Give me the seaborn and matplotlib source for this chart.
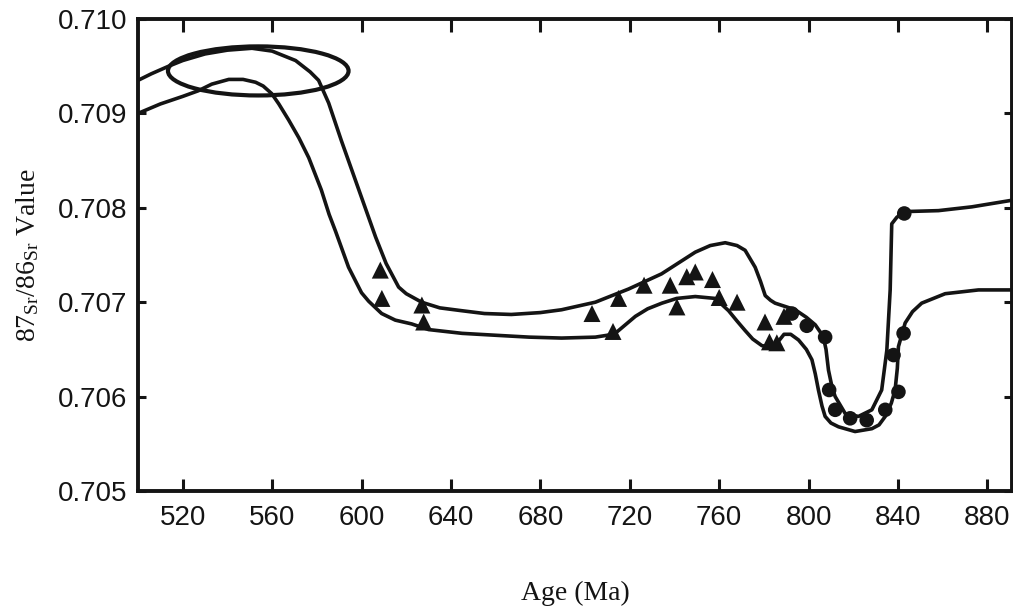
import matplotlib
matplotlib.use("Agg")
import matplotlib.pyplot as plt
from matplotlib.patches import Ellipse
import seaborn as sns

# ---------------- data ----------------
upper_age = [500, 506, 513.7, 520, 530, 540, 551, 560, 570.5, 577, 580.8, 585.3, 591, 600,
             606.3, 611, 616.6, 620, 626.9, 635, 644.8, 655, 667, 680, 689.5, 704.6, 719.5,
             734.2, 749.3, 756, 762.7, 768, 771.6, 776.1, 778.5, 780.6, 783, 785, 794, 799,
             803, 806.5, 807.8, 808.9, 810.5, 811.9, 816.4, 822.3, 828.3, 832.7, 835, 836.5,
             837.2, 839.5, 843.2, 858.1, 873, 891]
upper_sr = [0.70935, 0.70942, 0.70950, 0.70956, 0.70963, 0.70967, 0.70969, 0.70966, 0.70956,
            0.70944, 0.70935, 0.70911, 0.70871, 0.70811, 0.70769, 0.70741, 0.70716, 0.70709,
            0.70700, 0.70694, 0.70691, 0.70688, 0.70687, 0.70689, 0.70692, 0.70700, 0.70714,
            0.70730, 0.70753, 0.70760, 0.70763, 0.70760, 0.70755, 0.70737, 0.70722, 0.70707,
            0.70702, 0.70699, 0.70692, 0.70684, 0.70676, 0.70664, 0.70650, 0.70628, 0.70610,
            0.70600, 0.70582, 0.70579, 0.70586, 0.70607, 0.70649, 0.70713, 0.70783, 0.70790,
            0.70796, 0.70797, 0.70801, 0.70808]

lower_age = [500, 510, 520, 527, 533, 540.6, 547, 552.6, 556, 559.8, 563, 567.4, 572, 576.4,
             582, 585.5, 588.4, 594.2, 600, 603.2, 609, 615.1, 622.4, 630, 645, 659.8, 675,
             689.5, 704.6, 710, 713.5, 718, 722.5, 728, 734.4, 741, 749.3, 758.2, 761, 764.2,
             768, 771.6, 775, 779.1, 784, 787, 789, 792, 795.5, 799, 801.5, 803, 804.4, 806,
             807.4, 810, 813.4, 820.8, 828.3, 831.5, 834.3, 837, 838.7, 839.7, 840.2, 843.2,
             846.5, 850.6, 861.1, 876, 891]
lower_sr = [0.70900, 0.70910, 0.70918, 0.70924, 0.70931, 0.70936, 0.70936, 0.70933, 0.70929,
            0.70921, 0.70910, 0.70893, 0.70874, 0.70853, 0.70819, 0.70793, 0.70775, 0.70737,
            0.70710, 0.70701, 0.70688, 0.70681, 0.70677, 0.70671, 0.70667, 0.70665, 0.70663,
            0.70662, 0.70663, 0.70665, 0.70667, 0.70676, 0.70685, 0.70693, 0.70699, 0.70704,
            0.70706, 0.70704, 0.70698, 0.70691, 0.70680, 0.70670, 0.70661, 0.70654, 0.70652,
            0.70660, 0.70666, 0.70666, 0.70660, 0.70650, 0.70639, 0.70624, 0.70607, 0.70590,
            0.70579, 0.70572, 0.70568, 0.70563, 0.70566, 0.70570, 0.70579, 0.70593, 0.70607,
            0.70630, 0.70653, 0.70678, 0.70690, 0.70699, 0.70709, 0.70713, 0.70713]

triangle_age = [608.4, 609.1, 627.0, 627.8, 703.1, 715.0, 712.5, 726.4, 738.1, 741.1, 745.5,
                749.3, 757.0, 760.0, 768.0, 780.5, 782.5, 785.8, 789.0]
triangle_sr = [0.70734, 0.70704, 0.70697, 0.70679, 0.70688, 0.70704, 0.70669, 0.70718, 0.70718,
               0.70695, 0.70727, 0.70732, 0.70724, 0.70705, 0.70700, 0.70679, 0.70658, 0.70657,
               0.70685]

circle_age = [792.5, 799.2, 807.4, 809.2, 811.9, 818.6, 826.0, 834.3, 840.2, 838.0, 842.5, 842.8]
circle_sr = [0.70688, 0.70675, 0.70663, 0.70607, 0.70586, 0.70577, 0.70575, 0.70586, 0.70605,
             0.70644, 0.70667, 0.70794]

ellipse_center = (553.8, 0.70945)
ellipse_width_ma = 80.8
ellipse_height_sr = 0.00052

x_ticks = [520, 560, 600, 640, 680, 720, 760, 800, 840, 880]
y_ticks = [0.705, 0.706, 0.707, 0.708, 0.709, 0.710]
y_tick_labels = ["0.705", "0.706", "0.707", "0.708", "0.709", "0.710"]
x_label = "Age (Ma)"
y_label = r"87$_{\mathrm{Sr}}$/86$_{\mathrm{Sr}}$ Value"

# ---------------- style ----------------
sns.set_style("white")
plt.rcParams["font.family"] = ["Liberation Sans Narrow", "Liberation Sans", "DejaVu Sans"]
plt.rcParams["mathtext.fontset"] = "custom"
plt.rcParams["mathtext.rm"] = "Liberation Serif"
plt.rcParams["mathtext.it"] = "Liberation Serif:italic"

ink = "#141414"
lw = 2.6

fig = plt.figure(figsize=(10.13, 6.10), dpi=100)
ax = fig.add_axes([138 / 1013, 1 - 491 / 610, (1012 - 138) / 1013, (491 - 19) / 610])

sns.lineplot(x=upper_age, y=upper_sr, ax=ax, sort=False, estimator=None,
             color=ink, linewidth=lw)
sns.lineplot(x=lower_age, y=lower_sr, ax=ax, sort=False, estimator=None,
             color=ink, linewidth=lw)
ax.add_patch(Ellipse(ellipse_center, ellipse_width_ma, ellipse_height_sr,
                     fill=False, edgecolor=ink, linewidth=lw + 0.4, zorder=3))

sns.scatterplot(x=triangle_age, y=triangle_sr, ax=ax, marker="^", s=150,
                color=ink, edgecolor="none", zorder=4)
sns.scatterplot(x=circle_age, y=circle_sr, ax=ax, marker="o", s=110,
                color=ink, edgecolor="none", zorder=4)

ax.set_xlim(500, 891)
ax.set_ylim(0.705, 0.710)
ax.set_xticks(x_ticks)
ax.set_xticklabels([str(t) for t in x_ticks])
ax.set_yticks(y_ticks)
ax.set_yticklabels(y_tick_labels)

for s in ax.spines.values():
    s.set_visible(True)
    s.set_linewidth(2.8)
    s.set_color(ink)

ax.tick_params(axis="x", direction="in", length=9, width=2.2, color=ink,
               top=True, bottom=True, labelsize=20, pad=10, labelcolor=ink)
ax.tick_params(axis="y", direction="in", length=6, width=2.2, color=ink,
               left=True, right=True, labelsize=20, pad=8, labelcolor=ink)

ax.set_xlabel(x_label, family="Liberation Serif", fontsize=20, color=ink, labelpad=36)
ax.set_ylabel(y_label, family="Liberation Serif", fontsize=20, color=ink, labelpad=12)

fig.savefig("out.png", dpi=100, facecolor="white")
